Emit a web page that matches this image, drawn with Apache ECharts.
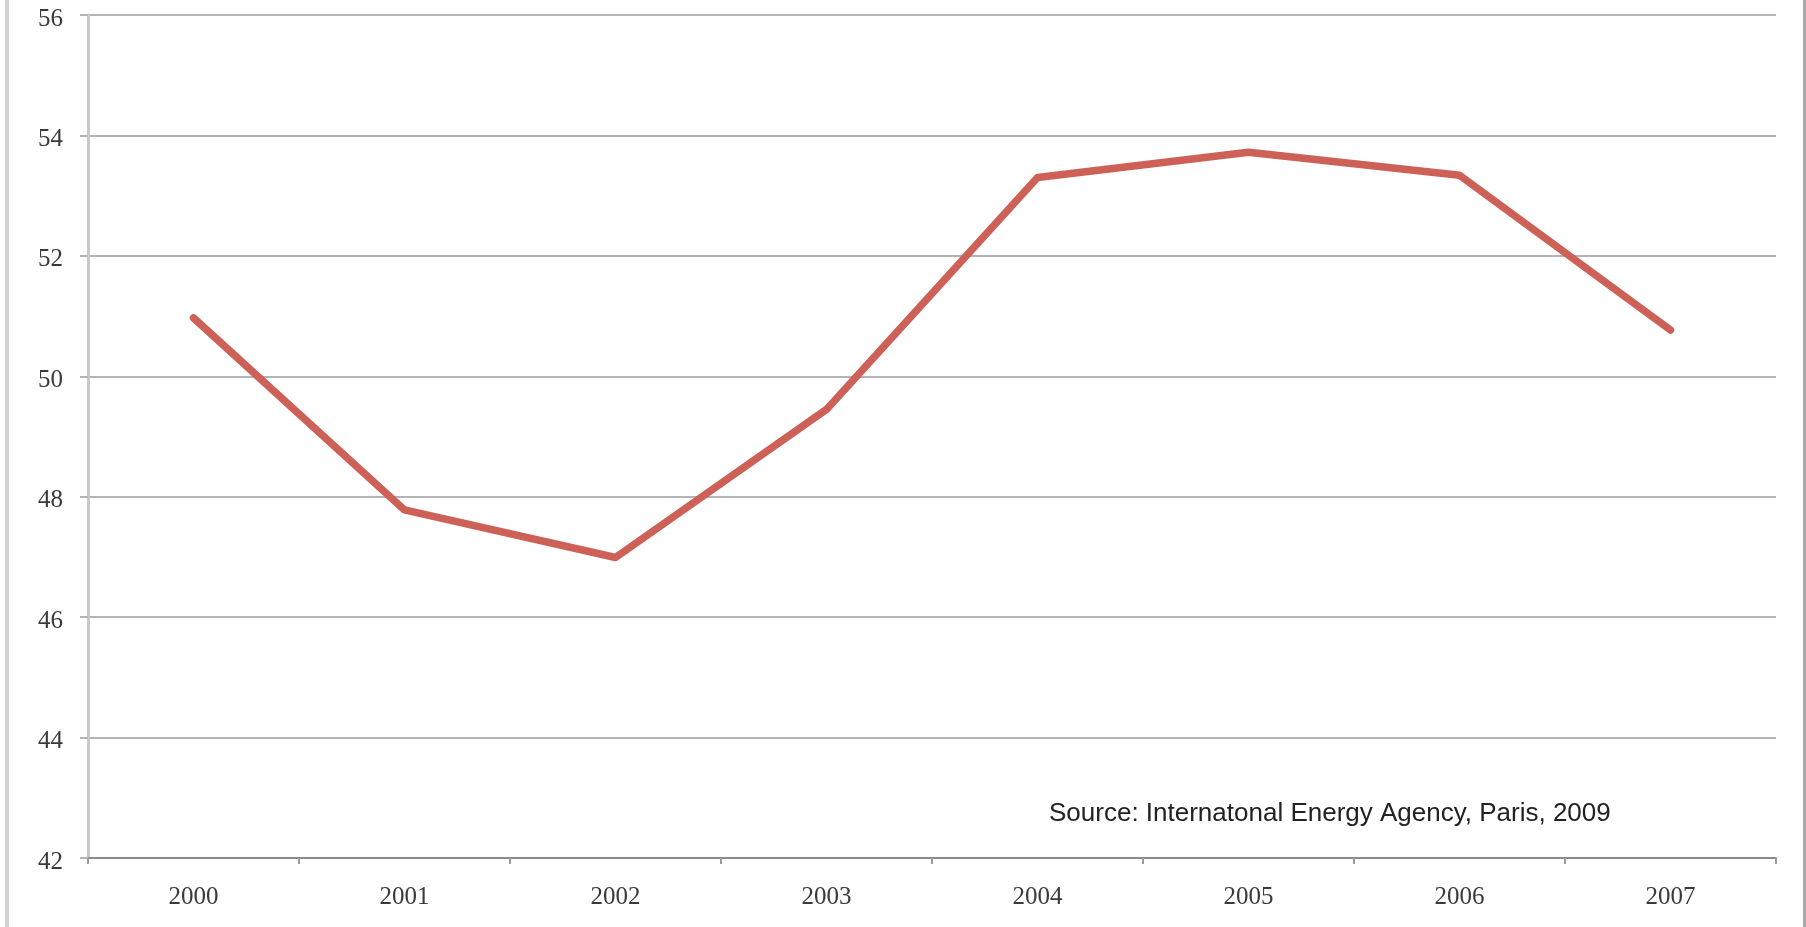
<!DOCTYPE html>
<html>
<head>
<meta charset="utf-8">
<script src="https://cdn.jsdelivr.net/npm/echarts@6/dist/echarts.min.js"></script>
<style>
html,body{margin:0;padding:0;background:#fff;}
#chart{width:1806px;height:927px;}
</style>
</head>
<body>
<div id="chart"></div>
<script>
var years = ['2000','2001','2002','2003','2004','2005','2006','2007'];
var values = [50.97, 47.78, 46.99, 49.45, 53.30, 53.72, 53.34, 50.77];
var yMin = 42, yMax = 56, yStep = 2;
var sourceText = 'Source: Internatonal Energy Agency, Paris, 2009';

var chart = echarts.init(document.getElementById('chart'), null, {renderer: 'canvas'});
chart.setOption({
  animation: false,
  backgroundColor: '#ffffff',
  grid: {left: 88, right: 30, top: 15, bottom: 69, containLabel: false},
  xAxis: {
    type: 'category',
    data: years,
    boundaryGap: true,
    axisLine: {show: true, lineStyle: {color: '#8a8a8a', width: 2}},
    axisTick: {show: true, length: 6, inside: false, alignWithLabel: false, lineStyle: {color: '#9a9a9a', width: 2}},
    axisLabel: {margin: 27, color: '#3a3a3a', fontFamily: 'Liberation Serif', fontSize: 25}
  },
  yAxis: {
    type: 'value',
    min: yMin, max: yMax, interval: yStep,
    axisLine: {show: true, lineStyle: {color: '#c8c8c8', width: 3}},
    axisTick: {show: true, length: 8, lineStyle: {color: '#b4b4b4', width: 2}},
    splitLine: {show: true, lineStyle: {color: '#b4b4b4', width: 2}},
    axisLabel: {margin: 25, color: '#3a3a3a', fontFamily: 'Liberation Serif', fontSize: 25, verticalAlign: 'top', lineHeight: 8}
  },
  series: [{
    type: 'line',
    data: values,
    symbol: 'none',
    lineStyle: {color: '#cd6158', width: 7.5, cap: 'round', join: 'round'},
    z: 5
  }],
  graphic: [
    {type: 'rect', left: 5, top: 0, shape: {width: 4, height: 927}, style: {fill: '#d2d2d2'}},
    {type: 'rect', left: 1803, top: 0, shape: {width: 3, height: 927}, style: {fill: '#aaaaaa'}},
    {type: 'text', left: 1049, top: 801, style: {text: sourceText, font: '26px "Liberation Sans"', fill: '#222222'}}
  ]
});
</script>
</body>
</html>
